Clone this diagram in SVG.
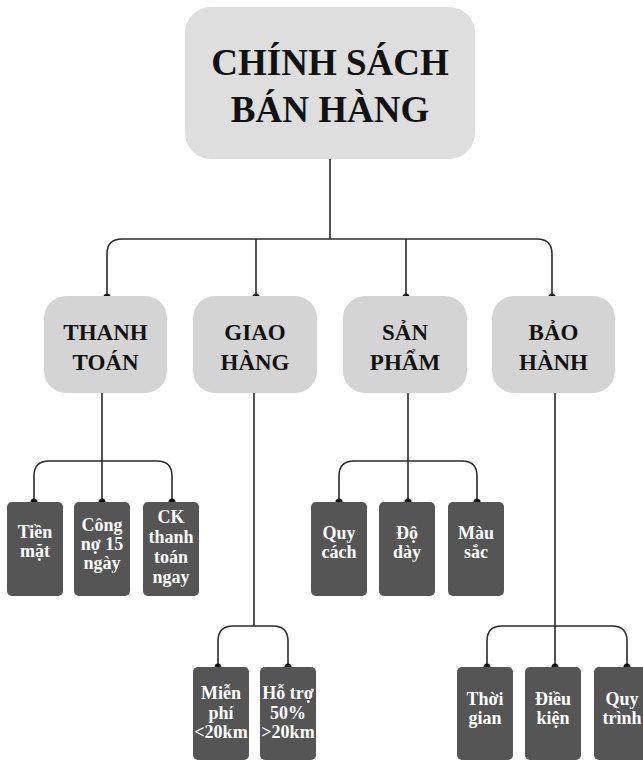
<svg xmlns="http://www.w3.org/2000/svg" width="643" height="762" viewBox="0 0 643 762">
<style>
.main{fill:#dedede}
.l1{fill:#d4d4d4}
.l2{fill:#555555}
.t0{font-family:"Liberation Serif",serif;font-weight:bold;font-size:37px;fill:#111;text-anchor:middle}
.t1{font-family:"Liberation Serif",serif;font-weight:bold;font-size:23px;fill:#111;text-anchor:middle}
.t2{font-family:"Liberation Serif",serif;font-weight:bold;font-size:18px;fill:#fff;text-anchor:middle}
.ln{fill:none;stroke:#2a2a2a;stroke-width:1.6}
.dot{fill:#111}
</style>
<rect width="643" height="762" fill="#fff"/>
<g id="connectors">
<path class="ln" d="M330,159 V239 M107,297 V254 Q107,239 122,239 H537 Q552,239 552,254 V297 M256,239 V297 M406,239 V297"/>
<path class="ln" d="M102,393 V502 M34,502 V476 Q34,461 49,461 H157 Q172,461 172,476 V502"/>
<path class="ln" d="M254,393 V626 M218,667 V641 Q218,626 233,626 H273 Q288,626 288,641 V667"/>
<path class="ln" d="M408,393 V502 M339,502 V476 Q339,461 354,461 H462 Q477,461 477,476 V502"/>
<path class="ln" d="M555,393 V667 M487,667 V641 Q487,626 502,626 H612 Q627,626 627,641 V667"/>
<g class="dot">
<circle cx="107" cy="297" r="3.5"/><circle cx="256" cy="297" r="3.5"/><circle cx="406" cy="297" r="3.5"/><circle cx="552" cy="297" r="3.5"/>
<circle cx="34" cy="502" r="3.5"/><circle cx="102" cy="502" r="3.5"/><circle cx="172" cy="502" r="3.5"/>
<circle cx="339" cy="502" r="3.5"/><circle cx="408" cy="502" r="3.5"/><circle cx="477" cy="502" r="3.5"/>
<circle cx="218" cy="667" r="3.5"/><circle cx="288" cy="667" r="3.5"/>
<circle cx="487" cy="667" r="3.5"/><circle cx="555" cy="667" r="3.5"/><circle cx="627" cy="667" r="3.5"/>
</g>
</g>
<g id="root">
<rect class="main" x="185" y="7" width="290" height="152" rx="26"/>
<text class="t0" x="330" y="75">CHÍNH SÁCH</text>
<text class="t0" x="330" y="122">BÁN HÀNG</text>
</g>
<g id="thanh-toan">
<rect class="l1" x="44" y="296" width="123" height="97" rx="22"/>
<text class="t1" x="105.5" y="340">THANH</text>
<text class="t1" x="105.5" y="370">TOÁN</text>
</g>
<g id="giao-hang">
<rect class="l1" x="193" y="296" width="124" height="97" rx="22"/>
<text class="t1" x="255" y="340">GIAO</text>
<text class="t1" x="255" y="370">HÀNG</text>
</g>
<g id="san-pham">
<rect class="l1" x="343" y="296" width="124" height="97" rx="22"/>
<text class="t1" x="405" y="340">SẢN</text>
<text class="t1" x="405" y="370">PHẨM</text>
</g>
<g id="bao-hanh">
<rect class="l1" x="492" y="296" width="123" height="97" rx="22"/>
<text class="t1" x="553.5" y="340">BẢO</text>
<text class="t1" x="553.5" y="370">HÀNH</text>
</g>
<g id="tien-mat">
<rect class="l2" x="7" y="502" width="56" height="94" rx="5"/>
<text class="t2" x="35" y="538">Tiền</text>
<text class="t2" x="35" y="557">mặt</text>
</g>
<g id="cong-no">
<rect class="l2" x="74" y="502" width="56" height="94" rx="5"/>
<text class="t2" x="102" y="531">Công</text>
<text class="t2" x="102" y="550">nợ 15</text>
<text class="t2" x="102" y="569">ngày</text>
</g>
<g id="ck">
<rect class="l2" x="143" y="502" width="56" height="94" rx="5"/>
<text class="t2" x="171" y="523">CK</text>
<text class="t2" x="171" y="543">thanh</text>
<text class="t2" x="171" y="563">toán</text>
<text class="t2" x="171" y="583">ngay</text>
</g>
<g id="quy-cach">
<rect class="l2" x="311" y="502" width="56" height="94" rx="5"/>
<text class="t2" x="339" y="539">Quy</text>
<text class="t2" x="339" y="558">cách</text>
</g>
<g id="do-day">
<rect class="l2" x="379" y="502" width="56" height="94" rx="5"/>
<text class="t2" x="407" y="539">Độ</text>
<text class="t2" x="407" y="558">dày</text>
</g>
<g id="mau-sac">
<rect class="l2" x="448" y="502" width="56" height="94" rx="5"/>
<text class="t2" x="476" y="539">Màu</text>
<text class="t2" x="476" y="558">sắc</text>
</g>
<g id="mien-phi">
<rect class="l2" x="193" y="667" width="56" height="93" rx="5"/>
<text class="t2" x="221" y="699">Miễn</text>
<text class="t2" x="221" y="719">phí</text>
<text class="t2" x="221" y="738">&lt;20km</text>
</g>
<g id="ho-tro">
<rect class="l2" x="260" y="667" width="56" height="93" rx="5"/>
<text class="t2" x="288" y="699">Hỗ trợ</text>
<text class="t2" x="288" y="719">50%</text>
<text class="t2" x="288" y="738">&gt;20km</text>
</g>
<g id="thoi-gian">
<rect class="l2" x="457" y="667" width="56" height="93" rx="5"/>
<text class="t2" x="485" y="705">Thời</text>
<text class="t2" x="485" y="724">gian</text>
</g>
<g id="dieu-kien">
<rect class="l2" x="525" y="667" width="56" height="93" rx="5"/>
<text class="t2" x="553" y="705">Điều</text>
<text class="t2" x="553" y="724">kiện</text>
</g>
<g id="quy-trinh">
<rect class="l2" x="594" y="667" width="56" height="93" rx="5"/>
<text class="t2" x="622" y="705">Quy</text>
<text class="t2" x="622" y="724">trình</text>
</g>
</svg>
